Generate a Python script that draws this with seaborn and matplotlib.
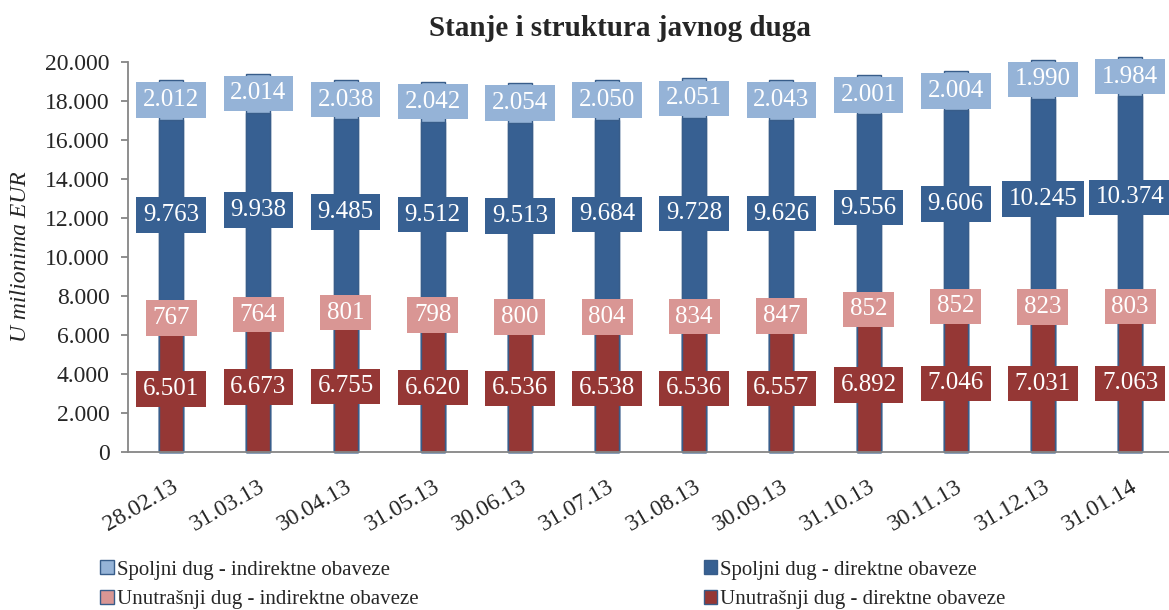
import numpy as np
import pandas as pd
import matplotlib
matplotlib.use('Agg')
import matplotlib.pyplot as plt
import seaborn as sns
from matplotlib.patches import Patch

dates = ['28.02.13', '31.03.13', '30.04.13', '31.05.13', '30.06.13', '31.07.13',
         '31.08.13', '30.09.13', '31.10.13', '30.11.13', '31.12.13', '31.01.14']
un_dir = [6501, 6673, 6755, 6620, 6536, 6538, 6536, 6557, 6892, 7046, 7031, 7063]
un_ind = [767, 764, 801, 798, 800, 804, 834, 847, 852, 852, 823, 803]
sp_dir = [9763, 9938, 9485, 9512, 9513, 9684, 9728, 9626, 9556, 9606, 10245, 10374]
sp_ind = [2012, 2014, 2038, 2042, 2054, 2050, 2051, 2043, 2001, 2004, 1990, 1984]

names = ['Unutrašnji dug - direktne obaveze', 'Unutrašnji dug - indirektne obaveze',
         'Spoljni dug - direktne obaveze', 'Spoljni dug - indirektne obaveze']
colors = ['#953735', '#D99694', '#376092', '#95B3D7']
edge = '#385D8A'

sns.set_style('white')
plt.rcParams['font.family'] = ['Liberation Serif', 'DejaVu Serif']

df = pd.DataFrame({'date': dates, names[0]: un_dir, names[1]: un_ind,
                   names[2]: sp_dir, names[3]: sp_ind})
series = names
cum = df[series].cumsum(axis=1)
bottoms = cum - df[series]

fig = plt.figure(figsize=(11.69, 6.10), dpi=100)
ax = fig.add_axes([127.7 / 1169, 1 - 452.3 / 610, 1045.9 / 1169, 390.6 / 610])

# stacked bars: draw cumulative totals from top layer down
for name, col in reversed(list(zip(series, colors))):
    sns.barplot(x=df['date'], y=cum[name], color=col, width=0.275,
                edgecolor=edge, linewidth=1, saturation=1, ax=ax)
for p in ax.patches:
    p.set_clip_on(False)

def fmt(v):
    return f"{v:,}".replace(',', '.')

for name, col in zip(series, colors):
    for i in range(len(dates)):
        v = df[name][i]
        ax.text(i, bottoms[name][i] + v / 2, fmt(v), ha='center', va='center',
                color='white', fontsize=18, clip_on=False,
                bbox=dict(boxstyle='square,pad=0.27', fc=col, ec='none'))

ax.set_ylim(0, 20000)
ax.set_xlim(-0.5, 11.5)
ax.set_yticks(np.arange(0, 20001, 2000))
ax.set_yticklabels([fmt(v) for v in range(0, 20001, 2000)], fontsize=17)
ax.set_xticks(range(len(dates)))
ax.set_xticklabels(dates, rotation=30, ha='right', va='top', rotation_mode='anchor', fontsize=17)
ax.set_xticks(np.arange(-0.5, 12, 1), minor=True)
ax.tick_params(axis='x', which='major', length=0, pad=17)
ax.tick_params(axis='x', which='minor', length=5, width=1.3, color='#868686', direction='out')
ax.tick_params(axis='y', length=5, width=1.3, color='#868686', direction='out', pad=8, left=True)
ax.set_xlabel('')
ax.set_ylabel('U milionima EUR', fontsize=17, style='italic', labelpad=10)
for s in ['top', 'right']:
    ax.spines[s].set_visible(False)
for s in ['left', 'bottom']:
    ax.spines[s].set_color('#868686')
    ax.spines[s].set_linewidth(1.3)

fig.text(620 / 1169, 1 - 29 / 610, 'Stanje i struktura javnog duga', ha='center', va='center',
         fontsize=21, fontweight='bold')

order = [3, 1, 2, 0]
handles = [Patch(facecolor=colors[k], edgecolor=edge, linewidth=1) for k in order]
fig.legend(handles, [names[k] for k in order], ncol=2, loc='upper left',
           bbox_to_anchor=(90 / 1169, 1 - 550 / 610), frameon=False, fontsize=15,
           handlelength=0.63, handleheight=0.63, handletextpad=0.15, columnspacing=13.7,
           labelspacing=0.5, borderpad=0)

fig.savefig('out.png', dpi=100)
